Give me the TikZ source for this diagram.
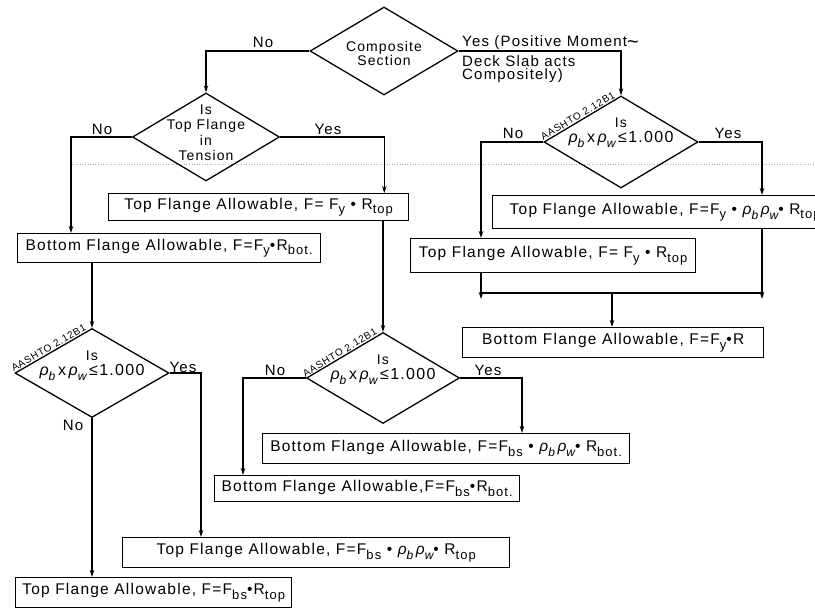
\documentclass[tikz,border=0pt]{standalone}
\usepackage{fontspec}
\setmainfont{Liberation Sans}
\newfontfamily\lettering[LetterSpace=8]{Liberation Sans}
\usetikzlibrary{shapes.geometric,arrows.meta}
\newcommand\sbs[1]{\raisebox{-0.55ex}{\fontsize{13}{13}\selectfont #1}}
\newcommand\rb{{\itshape ρ}\raisebox{-0.6ex}{\fontsize{12}{12}\selectfont\itshape b}}
\newcommand\rw{{\itshape ρ}\raisebox{-0.6ex}{\fontsize{12}{12}\selectfont\itshape w}}
\newcommand\rholine{{\fontsize{16}{16}\selectfont\rb\,x\,\rw\,≤1.000}}
\begin{document}
\begin{tikzpicture}[x=1pt,y=-1pt,
  every node/.style={font=\lettering\fontsize{15}{17}\selectfont},
  box/.style={draw, line width=1.3pt, rectangle, anchor=north west, inner sep=0pt,
    font=\lettering\fontsize{15.5}{17}\selectfont},
  dia/.style={draw, line width=1.3pt, diamond, inner sep=0pt},
  con/.style={line width=1.3pt},
  arr/.style={line width=1.3pt, -{Stealth[length=7pt,width=4.5pt]}},
  lbl/.style={inner sep=0pt},
  code/.style={inner sep=0pt, font=\lettering\fontsize{10}{10}\selectfont},
  dtext/.style={align=center, inner sep=0pt, font=\lettering\fontsize{14}{16}\selectfont}
]
\useasboundingbox (0,0) rectangle (815,608);
\clip (0,0) rectangle (815,608);
\fill[white] (0,0) rectangle (815,608);
% scan artifact
\draw[gray!60, dotted, line width=0.6pt] (72,164) -- (815,164);

% diamonds
\node[dia, minimum width=148pt, minimum height=88pt] (d1) at (384,51) {};
\node[dtext] (t1) at (384,53) {Composite\\[-2pt]Section};
\node[dia, minimum width=147pt, minimum height=88pt] (d2) at (206,137) {};
\node[dtext, font=\lettering\fontsize{14}{15.5}\selectfont] (t2) at (206,133) {Is\\Top Flange\\in\\Tension};
\node[dia, minimum width=154pt, minimum height=92pt] (d3) at (621,142) {};
\node[dtext] (t3) at (621,133) {Is\\[-1pt]\rholine};
\node[dia, minimum width=154pt, minimum height=89pt] (d4) at (92,373) {};
\node[dtext] (t4) at (92,366) {Is\\[-1pt]\rholine};
\node[dia, minimum width=153pt, minimum height=91pt] (d5) at (383,378) {};
\node[dtext] (t5) at (383,370) {Is\\[-1pt]\rholine};

% AASHTO codes
\node[code, anchor=south east, rotate=31] (c3) at ([xshift=-5pt,yshift=-2pt]d3.north) {AASHTO 2.12B1};
\node[code, anchor=south east, rotate=30] (c4) at ([xshift=-5pt,yshift=-2pt]d4.north) {AASHTO 2.12B1};
\node[code, anchor=south east, rotate=31] (c5) at ([xshift=-5pt,yshift=-2pt]d5.north) {AASHTO 2.12B1};

% boxes
\node[box, minimum width=300pt, minimum height=27pt] (b1) at (108,193) {Top Flange Allowable, F= F\sbs{y} • R\sbs{top}};
\node[box, minimum width=303pt, minimum height=29pt] (b2) at (17,233) {Bottom Flange Allowable, F=F\sbs{y}•R\sbs{bot.}};
\node[box, minimum width=345pt, minimum height=33pt] (b3) at (492,195) {Top Flange Allowable, F=F\sbs{y} • \rb\,\rw • R\sbs{top}};
\node[box, minimum width=285pt, minimum height=34pt] (b4) at (410,238) {Top Flange Allowable, F= F\sbs{y} • R\sbs{top}};
\node[box, minimum width=301pt, minimum height=30pt] (b5) at (462,327) {Bottom Flange Allowable, F=F\sbs{y}•R};
\node[box, minimum width=367pt, minimum height=30pt] (b6) at (262,433) {Bottom Flange Allowable, F=F\sbs{bs} • \rb\,\rw • R\sbs{bot.}};
\node[box, minimum width=305pt, minimum height=26pt] (b7) at (214,475) {Bottom Flange Allowable,F=F\sbs{bs}•R\sbs{bot.}};
\node[box, minimum width=387pt, minimum height=30pt] (b8) at (122,537) {Top Flange Allowable, F=F\sbs{bs} • \rb\,\rw • R\sbs{top}};
\node[box, minimum width=276pt, minimum height=30pt] (b9) at (15,577) {Top Flange Allowable, F=F\sbs{bs}•R\sbs{top}};

% connectors
\draw[arr] (d1.west) -| (d2.north);
\draw[arr] (d1.east) -| (d3.north);
\draw[arr] (d2.west) -| ([xshift=54pt]b2.north west);
\draw[arr] (d2.east) -| ([xshift=-25pt]b1.north east);
\draw[arr] (b1.south -| d5.north) -- (d5.north);
\draw[arr] (b2.south -| d4.north) -- (d4.north);
\draw[arr] (d4.east) -| ([xshift=79pt]b8.north west);
\draw[arr] (d4.south) -- (d4.south |- b9.north);
\draw[arr] (d5.west) -| ([xshift=29pt]b7.north west);
\draw[arr] (d5.east) -| ([xshift=260pt]b6.north west);
\draw[arr] (d3.west) -| ([xshift=71pt]b4.north west);
\draw[arr] (d3.east) -| ([xshift=270pt]b3.north west);

\coordinate (j1) at (481,293);
\coordinate (j2) at (762,293);
\coordinate (jm) at (612,293);
\draw[con] ([xshift=71pt]b4.south west) -- (j1) -- (j2) -- ([xshift=270pt]b3.south west);
\draw[arr] ([xshift=71pt]b4.south west) -- ([yshift=-6pt]j1);
\draw[arr] ([xshift=270pt]b3.south west) -- ([yshift=-6pt]j2);
\draw[arr] (jm) -- (jm |- b5.north);

% branch labels
\node[lbl] (n1) at (263,42) {No};
\node[lbl, anchor=base west] (y1) at (462,46) {Yes (Positive Moment\raisebox{-0.35ex}{\fontsize{20}{20}\selectfont\textasciitilde}};
\node[lbl, anchor=north west, align=left, font=\lettering\fontsize{15}{13.5}\selectfont] (y1b) at (462,55) {Deck Slab acts\\Compositely)};
\node[lbl] (n2) at (102,129) {No};
\node[lbl] (y2) at (328,129) {Yes};
\node[lbl] (n3) at (513,133) {No};
\node[lbl] (y3) at (728,133) {Yes};
\node[lbl] (y4) at (183,367) {Yes};
\node[lbl] (n4) at (73,425) {No};
\node[lbl] (n5) at (275,370) {No};
\node[lbl] (y5) at (488,370) {Yes};
\end{tikzpicture}
\end{document}
